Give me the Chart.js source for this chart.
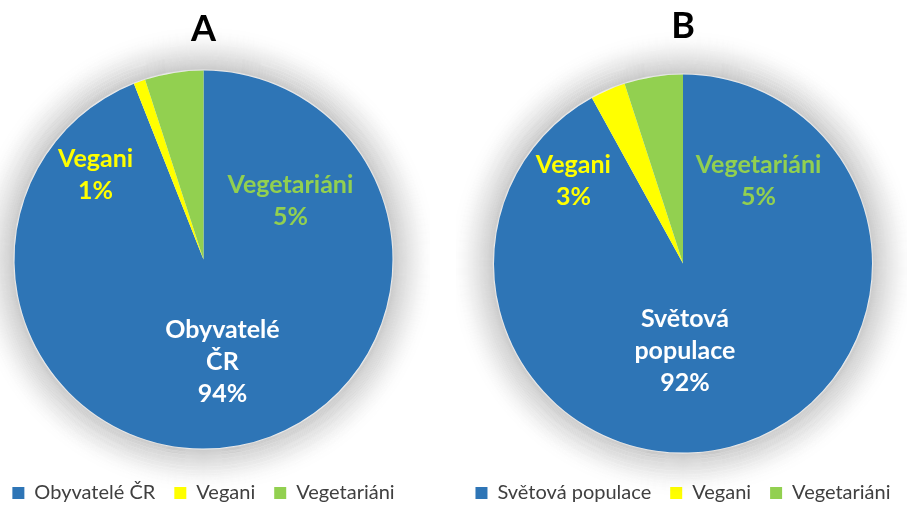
<!DOCTYPE html>
<html>
<head>
<meta charset="utf-8">
<script src="https://cdn.jsdelivr.net/npm/chart.js@4.4.1/dist/chart.umd.min.js"></script>
<style>
  html, body { margin: 0; padding: 0; background: #fff; overflow: hidden; width: 907px; height: 506px; }
  .box { position: absolute; top: 0; height: 513px; }
  #wrapA { left: -23px; width: 453px; }
  #wrapB { left: 456px; width: 454px; }
</style>
</head>
<body>
<div class="box" id="wrapA"><canvas id="chartA"></canvas></div>
<div class="box" id="wrapB"><canvas id="chartB"></canvas></div>
<script>
const labelsA = ['Obyvatelé ČR', 'Vegani', 'Vegetariáni'];
const valuesA = [94, 1, 5];
const labelsB = ['Světová populace', 'Vegani', 'Vegetariáni'];
const valuesB = [92, 3, 5];
const sliceColors = ['#2E75B6', '#FFFF00', '#92D050'];
const textColors = ['#FFFFFF', '#FFFF00', '#92D050'];

// soft grey glow around the pie, built from overlapping fading rings
const pieGlow = {
  id: 'pieGlow',
  afterDatasetsDraw(chart) {
    const arc = chart.getDatasetMeta(0).data[0];
    if (!arc) return;
    const ctx = chart.ctx;
    const r = arc.outerRadius;
    const spread = 45;
    ctx.save();
    ctx.lineWidth = 2.2;
    for (let k = 0; k < spread; k++) {
      const a = 0.1 * Math.pow(1 - k / spread, 1.6);
      ctx.strokeStyle = 'rgba(0,0,0,' + a.toFixed(4) + ')';
      ctx.beginPath();
      ctx.arc(arc.x, arc.y, r + k + 1.2, 0, Math.PI * 2);
      ctx.stroke();
    }
    ctx.restore();
  }
};

// category name + percentage written on / next to each slice
const sliceLabels = {
  id: 'sliceLabels',
  afterDatasetsDraw(chart, args, opts) {
    const ctx = chart.ctx;
    const meta = chart.getDatasetMeta(0);
    const values = chart.data.datasets[0].data;
    ctx.save();
    ctx.font = 'bold 25px Lato';
    ctx.textAlign = 'center';
    ctx.textBaseline = 'middle';
    meta.data.forEach((arc, i) => {
      const lines = chart.data.labels[i].split(' ').concat([values[i] + '%']);
      const [dx, dy] = opts.offsets[i];
      const cx = arc.x + dx * arc.outerRadius;
      const cy = arc.y + dy * arc.outerRadius;
      const lh = opts.lineHeight;
      ctx.fillStyle = textColors[i];
      lines.forEach((t, j) => {
        ctx.fillText(t, cx, cy + (j - (lines.length - 1) / 2) * lh);
      });
    });
    ctx.restore();
  }
};

function makePie(id, title, labels, values, offsets, titlePad) {
  return new Chart(document.getElementById(id), {
    type: 'pie',
    data: {
      labels: labels,
      datasets: [{ data: values, backgroundColor: sliceColors, borderWidth: 0, radius: 189 }],
    },
    options: {
      responsive: true,
      maintainAspectRatio: false,
      animation: false,
      plugins: {
        title: {
          display: true, text: title, color: '#000',
          font: { family: 'Lato', size: 36, weight: 'bold' },
          padding: titlePad,
        },
        legend: {
          position: 'bottom',
          labels: {
            boxWidth: 12, boxHeight: 12, padding: 19, color: '#404040',
            font: { family: 'Lato', size: 20 },
          },
        },
        tooltip: { enabled: false },
        pieGlow: {},
        sliceLabels: { offsets: offsets, lineHeight: 32 },
      },
    },
    plugins: [pieGlow, sliceLabels],
  });
}

makePie('chartA', 'A', labelsA, valuesA,
  [[0.10, 0.54], [-0.571, -0.45], [0.46, -0.31]], { top: 8, bottom: 4 });
makePie('chartB', 'B', labelsB, valuesB,
  [[0.01, 0.46], [-0.58, -0.44], [0.40, -0.44]], { top: 5, bottom: 15 });
</script>
</body>
</html>
